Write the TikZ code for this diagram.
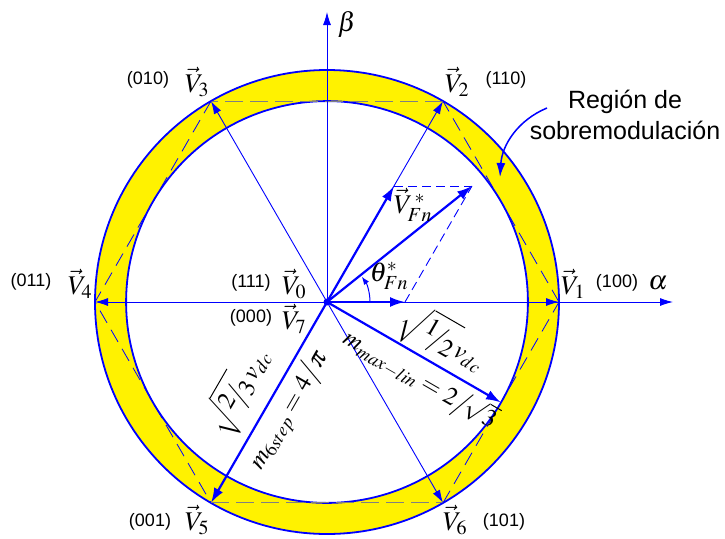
\documentclass[tikz,border=0pt]{standalone}
\usepackage{mathptmx}
\usepackage[no-math]{fontspec}
\setsansfont{Liberation Sans}
\usetikzlibrary{arrows.meta}
\begin{document}
\begin{tikzpicture}[x=1pt,y=-1pt,
  thinv/.style={blue, line width=0.9pt, -{Latex[length=13pt,width=8pt]}},
  thickv/.style={blue, line width=2.2pt, -{Latex[length=15pt,width=10pt]}},
  hexb/.style={blue, line width=0.8pt, dash pattern=on 14pt off 8pt},
  hexg/.style={gray, line width=1pt, dash pattern=on 18pt off 7pt},
  ring/.style={blue, line width=1.8pt},
  lbl/.style={font=\sffamily\fontsize{18}{20}\selectfont, inner sep=1pt},
  mth/.style={font=\fontsize{27}{29}\selectfont, inner sep=1pt},
  rmth/.style={font=\fontsize{25}{27}\selectfont, inner sep=1pt}]
\useasboundingbox (0,0) rectangle (725,538);
% key points
\coordinate (O) at (327,302);
\coordinate (v1) at (559,302);
\coordinate (v2) at (443,101.1);
\coordinate (v3) at (211,101.1);
\coordinate (v4) at (95,302);
\coordinate (v5) at (211,502.9);
\coordinate (v6) at (443,502.9);
\coordinate (aend) at (673,302);
\coordinate (bend) at (327,12);
\coordinate (p330) at (501,402.5);
\coordinate (fa) at (405,302);
\coordinate (fb) at (394,186);
\coordinate (fr) at (472,186);
% ring
\fill[yellow, even odd rule] (O) circle[radius=232] (O) circle[radius=200.9];
\draw[ring] (O) circle[radius=232];
\draw[ring] (O) circle[radius=200.9];
% hexagon
\draw[hexb] (v1) -- (v2);
\draw[hexg] (v2) -- (v3);
\draw[hexb] (v3) -- (v4) -- (v5);
\draw[hexg] (v5) -- (v6);
\draw[hexb] (v6) -- (v1);
% axes
\draw[thinv] (O) -- (aend);
\draw[thinv] (O) -- (bend);
% base vectors
\draw[thinv] (O) -- (v1);
\draw[thinv] (O) -- (v2);
\draw[thinv] (O) -- (v3);
\draw[thinv] (O) -- (v4);
\draw[thickv] (O) -- (v5);
\draw[thinv] (O) -- (v6);
\draw[thickv] (O) -- (p330);
% reference vector
\draw[blue, line width=0.9pt, dash pattern=on 9pt off 5pt] (fa) -- (fr);
\draw[blue, line width=0.9pt, dash pattern=on 9pt off 5pt] (fb) -- (fr);
\draw[thickv] (O) -- (fa);
\draw[thickv] (O) -- (fb);
\draw[thickv] (O) -- (fr);
\draw[blue, line width=1pt, -{Latex[length=8pt,width=6pt]}] (370,302) arc[start angle=0, end angle=-36, radius=43];
\fill[blue] (O) circle[radius=3.5];
% labels
\node[mth] (beta) at (347,24) {$\beta$};
\node[mth] (alpha) at (658,283) {$\alpha$};
\node[mth] (l1) at (573,284) {$\vec{V}_1$};
\node[lbl] (c1) at (617,283) {(100)};
\node[mth] (l2) at (457,82) {$\vec{V}_2$};
\node[lbl] (c2) at (506,80) {(110)};
\node[lbl] (c3) at (148,80) {(010)};
\node[mth] (l3) at (197,82) {$\vec{V}_3$};
\node[lbl] (c4) at (31,282) {(011)};
\node[mth] (l4) at (80,284) {$\vec{V}_4$};
\node[lbl] (c0) at (251,283) {(111)};
\node[mth] (l0) at (294,284) {$\vec{V}_0$};
\node[lbl] (c7) at (251,318) {(000)};
\node[mth] (l7) at (294,319) {$\vec{V}_7$};
\node[lbl] (c5) at (150,522) {(001)};
\node[mth] (l5) at (197,520) {$\vec{V}_5$};
\node[mth] (l6) at (455,520) {$\vec{V}_6$};
\node[lbl] (c6) at (504,522) {(101)};
\node[mth] (lfn) at (413,205) {$\vec{V}_{Fn}^{\,*}$};
\node[mth] (lth) at (389,276) {$\theta_{Fn}^{*}$};
\node[rmth, rotate=-30] (k1) at (443,340) {$\sqrt{\raisebox{0.28em}{$1$}\!\big/\!\raisebox{-0.18em}{$2$}}\,v_{dc}$};
\node[rmth, rotate=-30] (k2) at (420,380) {$m_{max-lin}=2\big/\!\sqrt{3}$};
\node[rmth, rotate=60] (k3) at (239,391) {$\sqrt{\raisebox{0.28em}{$2$}\!\big/\!\raisebox{-0.18em}{$3$}}\,v_{dc}$};
\node[rmth, rotate=60] (k4) at (289,410) {$m_{6step}=4\big/\pi$};
\node[font=\sffamily\fontsize{25}{31}\selectfont, align=center, inner sep=0pt] (reg) at (625,115) {Región de\\sobremodulación};
\coordinate (cs) at (547,108);
\coordinate (ct) at (500,177);
\draw[blue, line width=1.5pt, -{Latex[length=14pt,width=9pt]}] (cs) .. controls (518,120) and (502,145) .. (ct);
\end{tikzpicture}
\end{document}
